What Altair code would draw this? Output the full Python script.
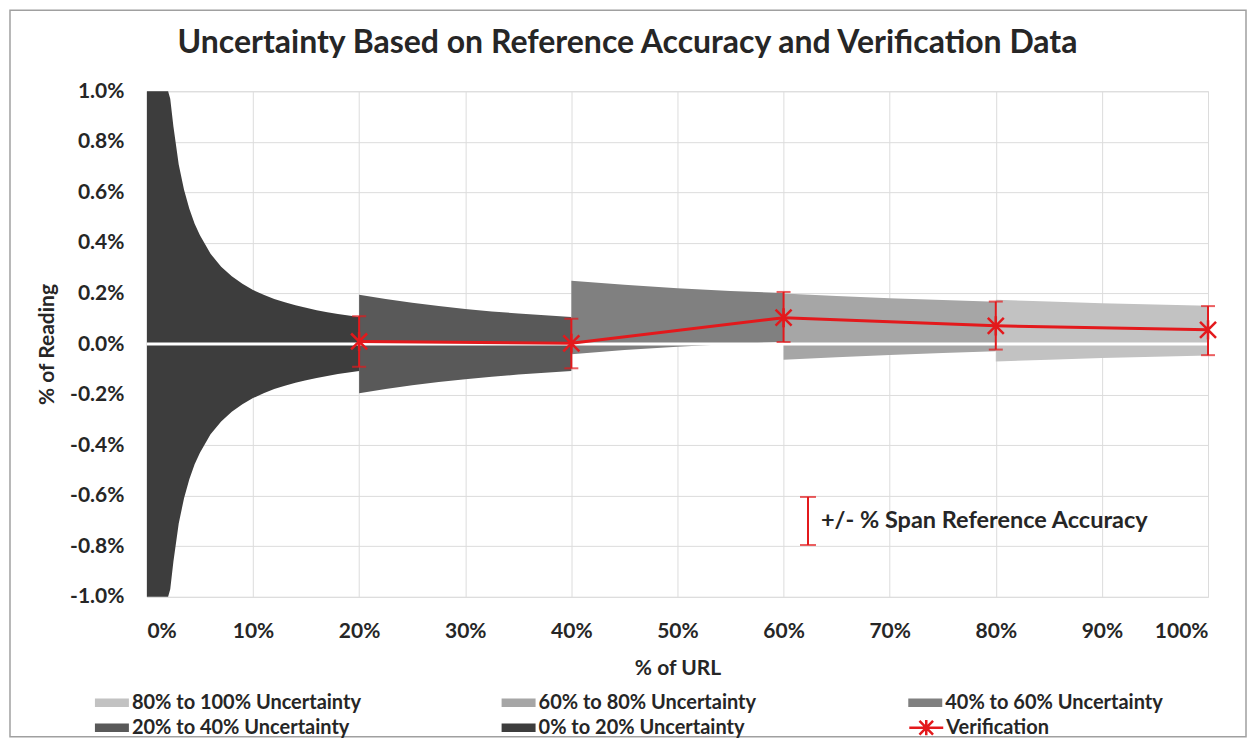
import altair as alt
import pandas as pd

# ---------------- data ----------------
title_text = ["Uncertainty Based on Reference Accuracy and Verification Data"]
band_names = ["80% to 100% Uncertainty", "60% to 80% Uncertainty", "40% to 60% Uncertainty",
              "20% to 40% Uncertainty", "0% to 20% Uncertainty"]
band_colors = ["#c2c2c2", "#a6a6a6", "#808080", "#595959", "#3d3d3d"]

x_0_20 = [0, 1, 1.5, 2, 2.2, 2.5, 3, 3.5, 4, 4.5, 5, 6, 7, 8, 9, 10, 11, 12, 13, 14, 15, 16, 17, 18, 19, 20]
up_0_20 = [3.0, 2.14, 1.43, 1.07, 0.97, 0.86, 0.71, 0.61, 0.535, 0.476, 0.43, 0.357, 0.306, 0.268, 0.238,
           0.214, 0.195, 0.178, 0.165, 0.153, 0.143, 0.134, 0.126, 0.119, 0.113, 0.107]
lo_0_20 = [-3.0, -2.14, -1.43, -1.07, -0.97, -0.86, -0.71, -0.61, -0.535, -0.476, -0.43, -0.357, -0.306, -0.268, -0.238,
           -0.214, -0.195, -0.178, -0.165, -0.153, -0.143, -0.134, -0.126, -0.119, -0.113, -0.107]

x_20_40 = [20, 22.5, 25, 27.5, 30, 32.5, 35, 37.5, 40]
up_20_40 = [0.195, 0.178, 0.163, 0.150, 0.139, 0.129, 0.121, 0.114, 0.107]
lo_20_40 = [-0.195, -0.178, -0.163, -0.150, -0.139, -0.129, -0.121, -0.114, -0.107]

x_40_60 = [40, 45, 50, 55, 60]
up_40_60 = [0.250, 0.234, 0.221, 0.210, 0.202]
lo_40_60 = [-0.040, -0.024, -0.011, 0.000, 0.008]

x_60_80 = [60, 65, 70, 75, 80]
up_60_80 = [0.200, 0.190, 0.181, 0.174, 0.167]
lo_60_80 = [-0.062, -0.052, -0.043, -0.036, -0.029]

x_80_100 = [80, 85, 90, 95, 100]
up_80_100 = [0.175, 0.168, 0.161, 0.156, 0.151]
lo_80_100 = [-0.069, -0.062, -0.055, -0.050, -0.045]

ver_x = [20, 40, 60, 80, 100]
ver_y = [0.01, 0.003, 0.104, 0.072, 0.056]
ver_lo = [-0.09, -0.096, 0.008, -0.022, -0.044]
ver_hi = [0.11, 0.10, 0.206, 0.168, 0.150]

note_x = [62.3]
note_lo = [-0.795]
note_hi = [-0.605]
note_text = ["+/- % Span Reference Accuracy"]

x_ticks = [0, 10, 20, 30, 40, 50, 60, 70, 80, 90, 100]
y_ticks = [-1.0, -0.8, -0.6, -0.4, -0.2, 0.0, 0.2, 0.4, 0.6, 0.8, 1.0]

# ---------------- tables ----------------
rows = []
for name, xs, us, ls in [
    (band_names[4], x_0_20, up_0_20, lo_0_20),
    (band_names[3], x_20_40, up_20_40, lo_20_40),
    (band_names[2], x_40_60, up_40_60, lo_40_60),
    (band_names[1], x_60_80, up_60_80, lo_60_80),
    (band_names[0], x_80_100, up_80_100, lo_80_100),
]:
    for xv, u, l in zip(xs, us, ls):
        rows.append({"band": name, "x": xv, "upper": u, "lower": l})
bands = pd.DataFrame(rows)

ver = pd.DataFrame({"x": ver_x, "y": ver_y, "lo": ver_lo, "hi": ver_hi,
                    "series": ["Verification"] * len(ver_x)})
note = pd.DataFrame({"x": note_x, "lo": note_lo, "hi": note_hi, "label": note_text,
                     "mid": [(a + b) / 2 for a, b in zip(note_lo, note_hi)]})
zero = pd.DataFrame({"v": [0.0]})
ttl = pd.DataFrame({"t": title_text})

FONT = "Lato"
TXT = "#262626"
RED = "#e3191c"

xscale = alt.Scale(domain=[0, 100], nice=False, zero=False)
yscale = alt.Scale(domain=[-1, 1], nice=False, zero=False, clamp=True)

xenc = alt.X("x:Q", scale=xscale, title="% of URL",
             axis=alt.Axis(values=x_ticks, labelExpr="datum.value + '%'", grid=True,
                           gridColor="#dcdcdc", domain=False, ticks=False, labelPadding=24,
                           labelFont=FONT, labelFontSize=21, labelFontWeight="bold", labelColor=TXT,
                           titleFont=FONT, titleFontSize=21, titleFontWeight="bold", titleColor=TXT,
                           titlePadding=16))

band_sym = "M-2,-0.5H2V0.5H-2Z"

areas = alt.Chart(bands).mark_area(opacity=1).encode(
    x=xenc,
    y=alt.Y("upper:Q", scale=yscale, title="% of Reading",
            axis=alt.Axis(values=y_ticks,
                          labelExpr="(datum.value < 0 ? '-' : '') + format(abs(datum.value), '.1f') + '%'",
                          grid=True, gridColor="#dcdcdc", domain=False, ticks=False, labelPadding=23,
                          labelFont=FONT, labelFontSize=21, labelFontWeight="bold", labelColor=TXT,
                          titleFont=FONT, titleFontSize=21, titleFontWeight="bold", titleColor=TXT,
                          titlePadding=12)),
    y2="lower:Q",
    color=alt.Color("band:N", scale=alt.Scale(domain=band_names, range=band_colors),
                    legend=alt.Legend(title=None, orient="none", legendX=-45, legendY=602,
                                      direction="horizontal", columns=3, gridAlign="all",
                                      columnPadding=140, rowPadding=5, padding=0,
                                      symbolType=band_sym, symbolSize=289, symbolStrokeWidth=0,
                                      labelFont=FONT, labelFontSize=20, labelFontWeight="bold",
                                      labelColor=TXT, labelOffset=10, labelLimit=400)),
)

zero_line = alt.Chart(zero).mark_rule(color="white", strokeWidth=3).encode(y=alt.Y("v:Q", scale=yscale))

err = alt.Chart(ver).mark_rule(color=RED, strokeWidth=2).encode(
    x=alt.X("x:Q", scale=xscale), y=alt.Y("lo:Q", scale=yscale), y2="hi:Q")
cap_hi = alt.Chart(ver).mark_tick(color=RED, orient="horizontal", size=14, thickness=2).encode(
    x=alt.X("x:Q", scale=xscale), y=alt.Y("hi:Q", scale=yscale))
cap_lo = alt.Chart(ver).mark_tick(color=RED, orient="horizontal", size=14, thickness=2).encode(
    x=alt.X("x:Q", scale=xscale), y=alt.Y("lo:Q", scale=yscale))

star = "M-2,0H2M-0.8,-0.8L0.8,0.8M-0.8,0.8L0.8,-0.8M0,-0.9L0,0.9"
line = alt.Chart(ver).mark_line(strokeWidth=3).encode(
    x=alt.X("x:Q", scale=xscale), y=alt.Y("y:Q", scale=yscale),
    stroke=alt.Stroke("series:N", scale=alt.Scale(domain=["Verification"], range=[RED]),
                      legend=alt.Legend(title=None, orient="none", legendX=770, legendY=627,
                                        padding=0, symbolType=star, symbolSize=289,
                                        symbolStrokeWidth=2.5, labelFont=FONT, labelFontSize=20,
                                        labelFontWeight="bold", labelColor=TXT, labelOffset=10)))
marks = alt.Chart(ver).mark_point(shape="M-1,-1L1,1M-1,1L1,-1M0,-1.2L0,1.2", size=256, filled=False,
                                  color=RED, strokeWidth=2.5, opacity=1).encode(
    x=alt.X("x:Q", scale=xscale), y=alt.Y("y:Q", scale=yscale))

note_rule = alt.Chart(note).mark_rule(color=RED, strokeWidth=2).encode(
    x=alt.X("x:Q", scale=xscale), y=alt.Y("lo:Q", scale=yscale), y2="hi:Q")
note_cap1 = alt.Chart(note).mark_tick(color=RED, orient="horizontal", size=16, thickness=2).encode(
    x=alt.X("x:Q", scale=xscale), y=alt.Y("lo:Q", scale=yscale))
note_cap2 = alt.Chart(note).mark_tick(color=RED, orient="horizontal", size=16, thickness=2).encode(
    x=alt.X("x:Q", scale=xscale), y=alt.Y("hi:Q", scale=yscale))
note_txt = alt.Chart(note).mark_text(align="left", baseline="middle", dx=13, font=FONT, fontSize=23.5,
                                     fontWeight="bold", color=TXT).encode(
    x=alt.X("x:Q", scale=xscale), y=alt.Y("mid:Q", scale=yscale), text="label:N")

title_mark = alt.Chart(ttl).mark_text(align="center", baseline="middle", font=FONT, fontSize=32,
                                      fontWeight="bold", color=TXT).encode(
    x=alt.value(481), y=alt.value(-48), text="t:N")

frame = alt.Chart(zero).mark_rect(fill="transparent", stroke="#a0a0a0", strokeWidth=1.5).encode(
    x=alt.value(-137), x2=alt.value(1100), y=alt.value(-81), y2=alt.value(646))

chart = alt.layer(
    areas, zero_line, err, cap_hi, cap_lo, line, marks, note_rule, note_cap1, note_cap2, note_txt,
    title_mark, frame
).properties(
    width=1062, height=506,
    autosize=alt.AutoSizeParams(type="none"),
    padding={"left": 139, "top": 83, "right": 39, "bottom": 141},
).resolve_scale(color="independent").configure_view(stroke="black", strokeWidth=1.5).configure(
    background="white")

chart.save("out.html", embed_options={"renderer": "svg", "actions": False})
